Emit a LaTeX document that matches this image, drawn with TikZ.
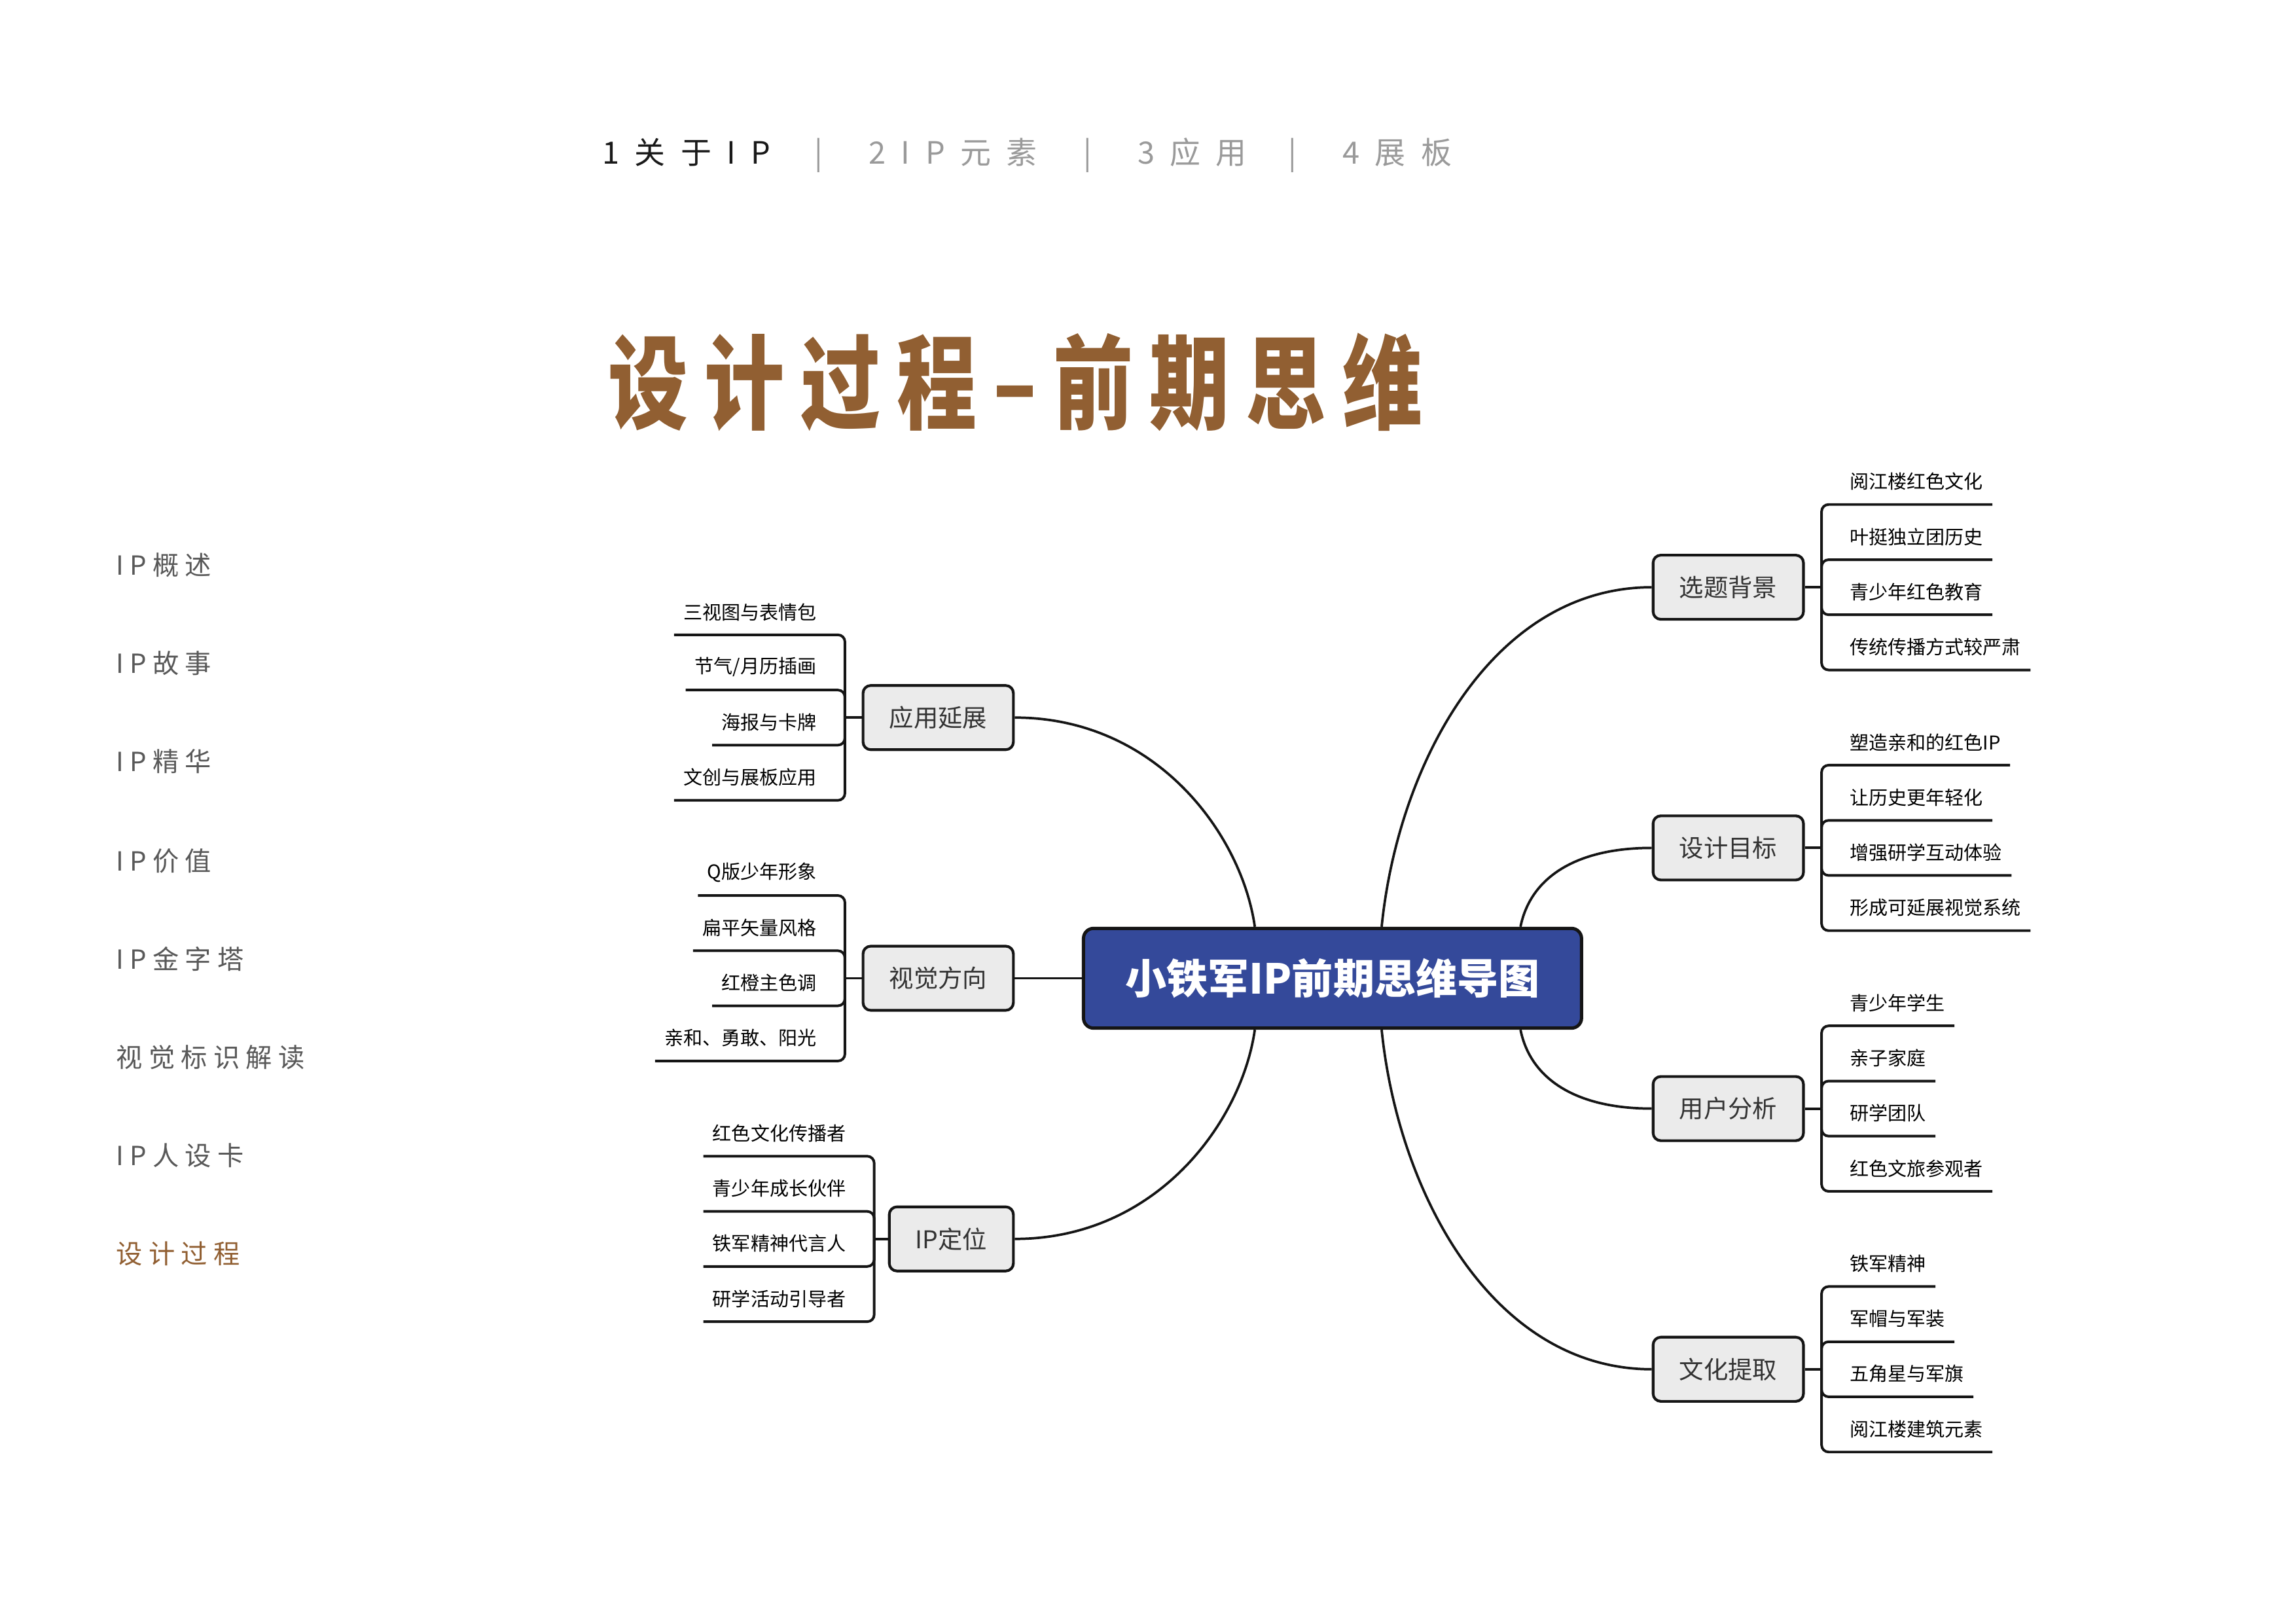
\documentclass[tikz,border=0pt]{standalone}
\usepackage{fontspec}
\setmainfont{Noto Sans CJK SC}
\newfontfamily\navfont[LetterSpace=50]{Noto Sans CJK SC}
\newfontfamily\menufont[LetterSpace=23]{Noto Sans CJK SC}
\newfontfamily\titlefont[FakeStretch=0.78,LetterSpace=16]{Noto Sans CJK SC}
\usetikzlibrary{calc}
\definecolor{titlebrown}{HTML}{915F32}
\definecolor{rootblue}{HTML}{34499A}
\definecolor{boxgrey}{HTML}{EBEBEB}
\definecolor{navgrey}{HTML}{9A9A9A}
\definecolor{menugrey}{HTML}{595959}
\definecolor{linecol}{HTML}{151515}
\definecolor{topictext}{HTML}{333333}
\tikzset{
  root/.style={draw=linecol, line width=1.2pt, fill=rootblue, rounded corners=1.3mm, text=white,
    font=\bfseries\fontsize{15.2}{18}\selectfont, minimum height=12.9mm, inner xsep=5.4mm, inner ysep=0pt},
  topic/.style={draw=linecol, line width=1pt, fill=boxgrey, rounded corners=1mm, text=topictext,
    font=\fontsize{9}{11}\selectfont, minimum height=8.3mm, inner xsep=3.4mm, inner ysep=0pt},
  leaf/.style={inner sep=0pt, text=black, font=\fontsize{7}{8}\selectfont},
  branch/.style={draw=linecol, line width=0.95pt, rounded corners=0.9mm},
  curve/.style={draw=linecol, line width=0.9pt},
  menu/.style={anchor=west, inner sep=0pt, text=menugrey, font=\menufont\fontsize{9.7}{11}\selectfont},
  nav/.style={anchor=west, inner sep=0pt, font=\navfont\fontsize{11.3}{13}\selectfont},
  navsep/.style={inner sep=0pt, text=navgrey, font=\fontsize{11.3}{13}\selectfont},
}
% right-hand leaves: #1 name, #2 parent y, #3-#6 texts
\newcommand\MyRightLeaves[6]{%
  \node[leaf,anchor=west] (#1-1) at (1263,#2-72.1) {#3};
  \node[leaf,anchor=west] (#1-2) at (1263,#2-34.4) {#4};
  \node[leaf,anchor=west] (#1-3) at (1263,#2+3.2) {#5};
  \node[leaf,anchor=west] (#1-4) at (1263,#2+40.9) {#6};
  \foreach \k in {1,2,3,4}{\draw[branch] (j#1) |- ($(#1-\k.east)+(6,15.6)$);}
}
% left-hand leaves: #1 name, #2 parent y, #3 text right x, #4-#7 texts
\newcommand\MyLeftLeaves[7]{%
  \node[leaf,anchor=east] (#1-1) at (#3,#2-72.1) {#4};
  \node[leaf,anchor=east] (#1-2) at (#3,#2-34.4) {#5};
  \node[leaf,anchor=east] (#1-3) at (#3,#2+3.2) {#6};
  \node[leaf,anchor=east] (#1-4) at (#3,#2+40.9) {#7};
  \foreach \k in {1,2,3,4}{\draw[branch] (j#1) |- ($(#1-\k.west)+(-6,15.6)$);}
}
\begin{document}
\begin{tikzpicture}[x=0.18941mm,y=-0.18941mm]
\useasboundingbox[fill=white] (0,0) rectangle (1568,1108.6);

% top navigation
\node[nav, text=black!90] (nav1) at (411,104) {1关于IP};
\node[navsep] (sep1) at (559,106) {|};
\node[nav, text=navgrey] (nav2) at (593,104) {2IP元素};
\node[navsep] (sep2) at (742.6,106) {|};
\node[nav, text=navgrey] (nav3) at (776.5,104) {3应用};
\node[navsep] (sep3) at (882.5,106) {|};
\node[nav, text=navgrey] (nav4) at (916.5,104) {4展板};

% title
\node[anchor=west, inner sep=0pt, text=titlebrown, font=\titlefont\bfseries\fontsize{37.7}{40}\selectfont] (title) at (415,261) {设计过程–前期思维};

% left menu
\node[menu] (m1) at (79,386) {IP概述};
\node[menu] (m2) at (79,453) {IP故事};
\node[menu] (m3) at (79,520) {IP精华};
\node[menu] (m4) at (79,588) {IP价值};
\node[menu] (m5) at (79,655) {IP金字塔};
\node[menu] (m6) at (79,722) {视觉标识解读};
\node[menu] (m7) at (79,789) {IP人设卡};
\node[menu, text=titlebrown] (m8) at (79,856) {设计过程};

% mind map
\node[root] (root) at (910,668) {小铁军IP前期思维导图};

\node[topic, anchor=east] (yy) at (693,490) {应用延展};
\node[topic, anchor=east] (sj) at (693,668) {视觉方向};
\node[topic, anchor=east] (dw) at (693,846) {IP定位};
\node[topic, anchor=west] (bg) at (1128,401) {选题背景};
\node[topic, anchor=west] (mb) at (1128,579) {设计目标};
\node[topic, anchor=west] (yh) at (1128,757) {用户分析};
\node[topic, anchor=west] (wh) at (1128,935) {文化提取};

\draw[curve] (yy.east) .. controls (790,490) and (848,570) .. ($(root.north west)!0.345!(root.north east)$);
\draw[curve] (sj.east) -- (root.west);
\draw[curve] (dw.east) .. controls (790,846) and (848,766) .. ($(root.south west)!0.345!(root.south east)$);
\draw[curve] (bg.west) .. controls (1020,401) and (955,520) .. ($(root.north west)!0.598!(root.north east)$);
\draw[curve] (mb.west) .. controls (1075,579) and (1045,600) .. ($(root.north west)!0.875!(root.north east)$);
\draw[curve] (yh.west) .. controls (1075,757) and (1045,736) .. ($(root.south west)!0.875!(root.south east)$);
\draw[curve] (wh.west) .. controls (1020,935) and (955,816) .. ($(root.south west)!0.598!(root.south east)$);

% junctions
\coordinate (jyy) at (577,490);
\coordinate (jsj) at (577,668);
\coordinate (jdw) at (597,846);
\coordinate (jbg) at (1244,401);
\coordinate (jmb) at (1244,579);
\coordinate (jyh) at (1244,757);
\coordinate (jwh) at (1244,935);
\draw[branch] (yy.west) -- (jyy);
\draw[branch] (sj.west) -- (jsj);
\draw[branch] (dw.west) -- (jdw);
\draw[branch] (bg.east) -- (jbg);
\draw[branch] (mb.east) -- (jmb);
\draw[branch] (yh.east) -- (jyh);
\draw[branch] (wh.east) -- (jwh);

\MyLeftLeaves{yy}{490}{558}{三视图与表情包}{节气/月历插画}{海报与卡牌}{文创与展板应用}
\MyLeftLeaves{sj}{668}{558}{Q版少年形象}{扁平矢量风格}{红橙主色调}{亲和、勇敢、阳光}
\MyLeftLeaves{dw}{846}{578}{红色文化传播者}{青少年成长伙伴}{铁军精神代言人}{研学活动引导者}
\MyRightLeaves{bg}{401}{阅江楼红色文化}{叶挺独立团历史}{青少年红色教育}{传统传播方式较严肃}
\MyRightLeaves{mb}{579}{塑造亲和的红色IP}{让历史更年轻化}{增强研学互动体验}{形成可延展视觉系统}
\MyRightLeaves{yh}{757}{青少年学生}{亲子家庭}{研学团队}{红色文旅参观者}
\MyRightLeaves{wh}{935}{铁军精神}{军帽与军装}{五角星与军旗}{阅江楼建筑元素}
\end{tikzpicture}
\end{document}
